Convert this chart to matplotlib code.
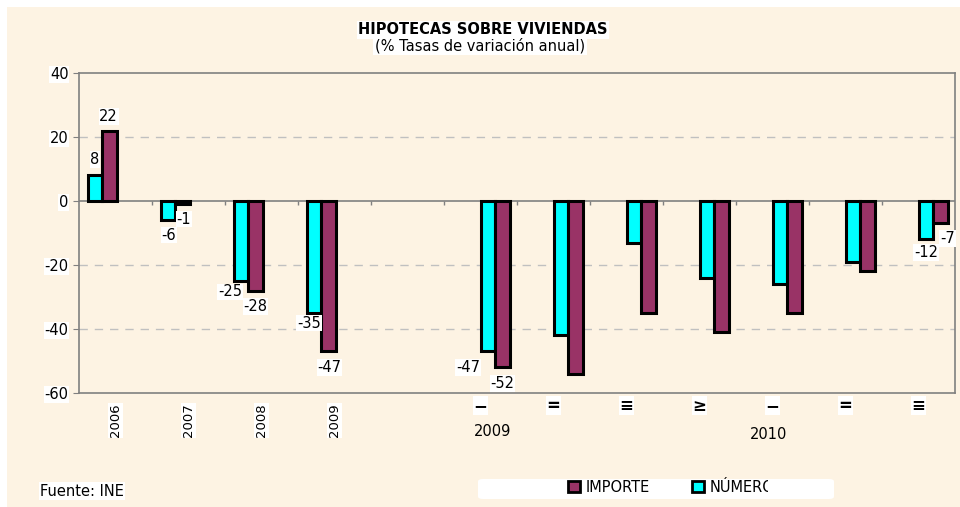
import matplotlib.pyplot as plt
import matplotlib.patches as mpatches
from matplotlib.transforms import offset_copy

plt.rcParams['font.family'] = ['DejaVu Sans']
plt.rcParams['axes.unicode_minus'] = False

# categories: 4 years, a gap, then quarters (roman numerals shown as symbol glyphs)
labels = ["2006", "2007", "2008", "2009", "", "\u2212", "=", "\u2261", "\u2265", "\u2212", "=", "\u2261"]
numero = [8, -6, -25, -35, None, -47, -42, -13, -24, -26, -19, -12]
importe = [22, -1, -28, -47, None, -52, -54, -35, -41, -35, -22, -7]
labelled = [0, 1, 2, 3, 5, 11]
groups = [("2009", 5.17, -72), ("2010", 8.94, -73)]

cream = "#FDF3E3"
cyan = "#00FFFF"
maroon = "#993366"
fs = 10.5

# pixel nudges for the value labels (dx, dy)
nudge_c = {0: (0, 16), 1: (1, -15), 2: (-11, -11), 3: (-5, -10), 5: (-20, -16), 11: (0, -13)}
nudge_m = {0: (-1, 14), 1: (1, -15), 2: (0, -16), 3: (1, -16), 5: (0, -16), 11: (7, -15)}

fig = plt.figure(figsize=(9.6, 5.07), dpi=100)
fig.patch.set_facecolor("white")
fig.patches.append(mpatches.Rectangle((7 / 960, 0), 1, 1 - 7 / 507, transform=fig.transFigure,
                                      facecolor=cream, edgecolor="none", zorder=-10))

ax = fig.add_axes([79 / 960, 114 / 507, 876 / 960, 320 / 507])
ax.set_facecolor(cream)
ax.set_xlim(-0.5, 11.5)
ax.set_ylim(-60, 40)

w = 0.2
white = dict(facecolor="white", edgecolor="none", pad=0.5)
for i in range(len(labels)):
    if numero[i] is None:
        continue
    off = -0.28 if i < 4 else 0.1
    xc, xm = i + off, i + off + w
    ax.bar(xc, numero[i], w, color=cyan, edgecolor="black", linewidth=2.2, zorder=3)
    ax.bar(xm, importe[i], w, color=maroon, edgecolor="black", linewidth=2.2, zorder=3)
    if i in labelled:
        for x, v, (dx, dy) in ((xc, numero[i], nudge_c[i]), (xm, importe[i], nudge_m[i])):
            tr = offset_copy(ax.transData, fig=fig, x=dx, y=dy, units="dots")
            ax.text(x, v, str(v), transform=tr, ha="center", va="center", fontsize=fs,
                    zorder=5, bbox=white)

# grid, zero line and frame
for y in (20, -20, -40):
    ax.axhline(y, color="#C0C0C0", linestyle=(0, (6, 5)), linewidth=1, zorder=1)
ax.axhline(0, color="#808080", linewidth=1.2, zorder=2)
ax.vlines([k + 0.5 for k in range(11)], -1.2, 0, color="#808080", linewidth=1, zorder=2)
for s in ax.spines.values():
    s.set_color("#808080")
    s.set_linewidth(1.2)

ax.set_yticks(range(-60, 41, 20))
ax.tick_params(axis="y", colors="#808080", labelcolor="black", labelsize=fs, length=4)
for t in ax.get_yticklabels():
    t.set_bbox(white)
ax.set_xticks([])

for i, lab in enumerate(labels):
    if not lab:
        continue
    if i < 4:
        ax.text(i, -63.3, lab, rotation=90, ha="center", va="top", fontsize=9.5, bbox=white)
    else:
        ax.text(i, -64, lab, ha="center", va="center", fontsize=12, fontweight="bold",
                bbox=white)
for g, x, y in groups:
    ax.text(x, y, g, ha="center", va="center", fontsize=fs)

# titles
fig.text(0.503, 1 - 30 / 507, "HIPOTECAS SOBRE VIVIENDAS", ha="center", va="center",
         fontsize=fs, fontweight="bold", bbox=dict(facecolor="white", edgecolor="none", pad=1))
fig.text(0.5, 1 - 46 / 507, "(% Tasas de variación anual)", ha="center", va="center",
         fontsize=fs, bbox=dict(facecolor="white", edgecolor="none", pad=1))

fig.text(40 / 960, 1 - 491 / 507, "Fuente: INE", ha="left", va="center", fontsize=fs,
         bbox=dict(facecolor="white", edgecolor="none", pad=1))

# legend box (cut on the right as in the original)
fig.patches.append(mpatches.FancyBboxPatch((478 / 960, 1 - 499 / 507), 356 / 960, 20 / 507,
                                           boxstyle="round,pad=0,rounding_size=0.005",
                                           transform=fig.transFigure, facecolor="white",
                                           edgecolor="none"))
for x0, col, txt in ((568, maroon, "IMPORTE"), (692, cyan, "NÚMERO")):
    fig.patches.append(mpatches.Rectangle((x0 / 960, 1 - 492 / 507), 12 / 960, 11 / 507,
                                          transform=fig.transFigure, facecolor=col,
                                          edgecolor="black", linewidth=2))
    fig.text((x0 + 18) / 960, 1 - 487 / 507, txt, ha="left", va="center", fontsize=fs)
cut = fig.add_artist(mpatches.Rectangle((768 / 960, 1 - 499 / 507), 60 / 960, 20 / 507,
                                        transform=fig.transFigure, facecolor="white",
                                        edgecolor="none"))
cut.set_zorder(10)

fig.savefig("out.png", dpi=100, facecolor=fig.get_facecolor())
